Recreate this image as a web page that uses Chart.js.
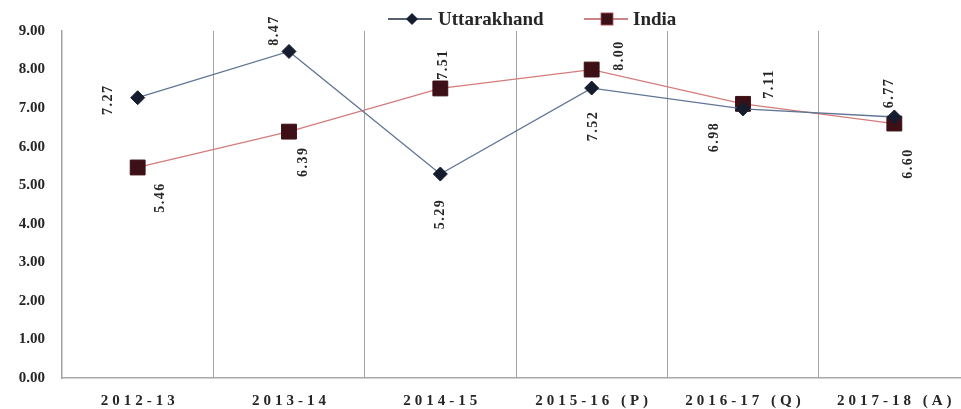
<!DOCTYPE html>
<html>
<head>
<meta charset="utf-8">
<script src="https://cdn.jsdelivr.net/npm/chart.js@4.4.1/dist/chart.umd.min.js"></script>
<style>
    html, body { margin: 0; padding: 0; background: #fff; overflow: hidden; width: 961px; height: 409px; }
    #clip { width: 961px; height: 409px; overflow: hidden; position: relative; }
    /* the plot runs a little past the right edge of the original picture */
    #wrap { width: 970px; height: 409px; position: absolute; left: 0; top: 0; }
    canvas { display: block; }
</style>
</head>
<body>
<div id="clip"><div id="wrap"><canvas id="growthChart"></canvas></div></div>
<script>
// Chart data
const YEARS = ['2012-13', '2013-14', '2014-15', '2015-16 (P)', '2016-17 (Q)', '2017-18 (A)'];
const UTTARAKHAND = [7.27, 8.47, 5.29, 7.52, 6.98, 6.77];
const INDIA = [5.46, 6.39, 7.51, 8.00, 7.11, 6.60];
const Y_TICKS = [0, 1, 2, 3, 4, 5, 6, 7, 8, 9];

// where each rotated value label sits relative to its point (styling only)
const UK_LABEL_OFFSETS = [[-29, 2], [-15, -21], [0, 40], [2, 38], [-29, 28], [-5, -24]];
const IN_LABEL_OFFSETS = [[23, 30], [14, 30], [3, -24], [28, -14], [26, -20], [14, 40]];

const SERIF = '"Liberation Serif", "Times New Roman", serif';
const TEXT_COLOR = '#262626';

const STYLES = {
    uk: { line: '#5f7596', point: '#141c2e', style: 'rectRot', radius: 7 },
    india: { line: '#d47c7c', point: '#3d0f16', style: 'rect', radius: 10.5 }
};

// rotated value labels next to each point
const valueLabels = {
    id: 'valueLabels',
    afterDatasetsDraw(chart) {
        const ctx = chart.ctx;
        chart.data.datasets.forEach((ds, di) => {
            const meta = chart.getDatasetMeta(di);
            meta.data.forEach((pt, i) => {
                const off = ds.labelOffsets[i];
                ctx.save();
                ctx.translate(pt.x + off[0], pt.y + off[1]);
                ctx.rotate(-Math.PI / 2);
                ctx.font = 'bold 14px ' + SERIF;
                ctx.letterSpacing = '1.5px';
                ctx.fillStyle = TEXT_COLOR;
                ctx.textAlign = 'center';
                ctx.textBaseline = 'middle';
                ctx.fillText(ds.data[i].toFixed(2), 0, 0);
                ctx.restore();
            });
        });
    }
};

// letter-spaced category labels under the x axis
const spacedXLabels = {
    id: 'spacedXLabels',
    afterDraw(chart) {
        const ctx = chart.ctx;
        const xs = chart.scales.x;
        ctx.save();
        ctx.font = 'bold 15px ' + SERIF;
        ctx.letterSpacing = '4px';
        ctx.fillStyle = TEXT_COLOR;
        ctx.textAlign = 'center';
        ctx.textBaseline = 'middle';
        chart.data.labels.forEach((lab, i) => {
            ctx.fillText(lab, xs.getPixelForTick(i) + 2, 401);
        });
        ctx.restore();
    }
};

// legend: line with marker through it, then the series name
const lineLegend = {
    id: 'lineLegend',
    afterDraw(chart) {
        const ctx = chart.ctx;
        const items = [
            { ds: chart.data.datasets[0], x0: 388, x1: 432, mx: 412, tx: 438, r: 5, lc: '#1f2a44' },
            { ds: chart.data.datasets[1], x0: 584, x1: 628, mx: 607, tx: 633, r: 8, lc: '#b85a5e' }
        ];
        const y = 19;
        items.forEach(it => {
            ctx.save();
            ctx.strokeStyle = it.lc;
            ctx.lineWidth = 1.5;
            ctx.beginPath();
            ctx.moveTo(it.x0, y);
            ctx.lineTo(it.x1, y);
            ctx.stroke();
            Chart.helpers.drawPoint(ctx, {
                pointStyle: it.ds.pointStyle,
                radius: it.r,
                rotation: 0,
                borderWidth: 1
            }, it.mx, y);
            ctx.fillStyle = it.ds.pointBackgroundColor;
            ctx.strokeStyle = it.ds.pointBorderColor;
            ctx.fill();
            ctx.font = 'bold 19px ' + SERIF;
            ctx.fillStyle = TEXT_COLOR;
            ctx.textAlign = 'left';
            ctx.textBaseline = 'middle';
            ctx.fillText(it.ds.label, it.tx, y + 1);
            ctx.restore();
        });
    }
};

function makeDataset(label, data, st, offsets) {
    return {
        label: label,
        data: data,
        borderColor: st.line,
        borderWidth: 1.3,
        pointStyle: st.style,
        pointRadius: st.radius,
        pointHoverRadius: st.radius,
        pointBackgroundColor: st.point,
        pointBorderColor: st.point,
        pointBorderWidth: 1,
        tension: 0,
        fill: false,
        clip: false,
        labelOffsets: offsets
    };
}

const chart = new Chart(document.getElementById('growthChart'), {
    type: 'line',
    data: {
        labels: YEARS,
        datasets: [
            makeDataset('Uttarakhand', UTTARAKHAND, STYLES.uk, UK_LABEL_OFFSETS),
            makeDataset('India', INDIA, STYLES.india, IN_LABEL_OFFSETS)
        ]
    },
    options: {
        responsive: true,
        maintainAspectRatio: false,
        animation: false,
        devicePixelRatio: 1,
        events: [],
        // no auto padding for the big markers, so the plot fills the canvas
        layout: { autoPadding: false, padding: { top: 31, right: 0, bottom: 0, left: 0 } },
        plugins: {
            legend: { display: false },
            tooltip: { enabled: false }
        },
        scales: {
            x: {
                type: 'category',
                offset: true,
                grid: {
                    display: true,
                    offset: true,
                    drawTicks: false,
                    color: '#a3a3a3',
                    lineWidth: 1
                },
                border: { display: true, color: '#a8a8a8', width: 1.5 },
                ticks: { display: false },
                afterFit: (s) => { s.height = 31; }
            },
            y: {
                min: 0,
                max: 9,
                afterBuildTicks: (s) => { s.ticks = Y_TICKS.map(v => ({ value: v })); },
                grid: { display: false, drawTicks: false },
                border: { display: true, color: '#a3a3a3', width: 1.5 },
                ticks: {
                    padding: 17,
                    color: TEXT_COLOR,
                    font: { family: SERIF, size: 15, weight: 'bold' },
                    callback: (v) => Number(v).toFixed(2)
                },
                afterFit: (s) => { s.width = 62; }
            }
        }
    },
    plugins: [valueLabels, spacedXLabels, lineLegend]
});
</script>
</body>
</html>
